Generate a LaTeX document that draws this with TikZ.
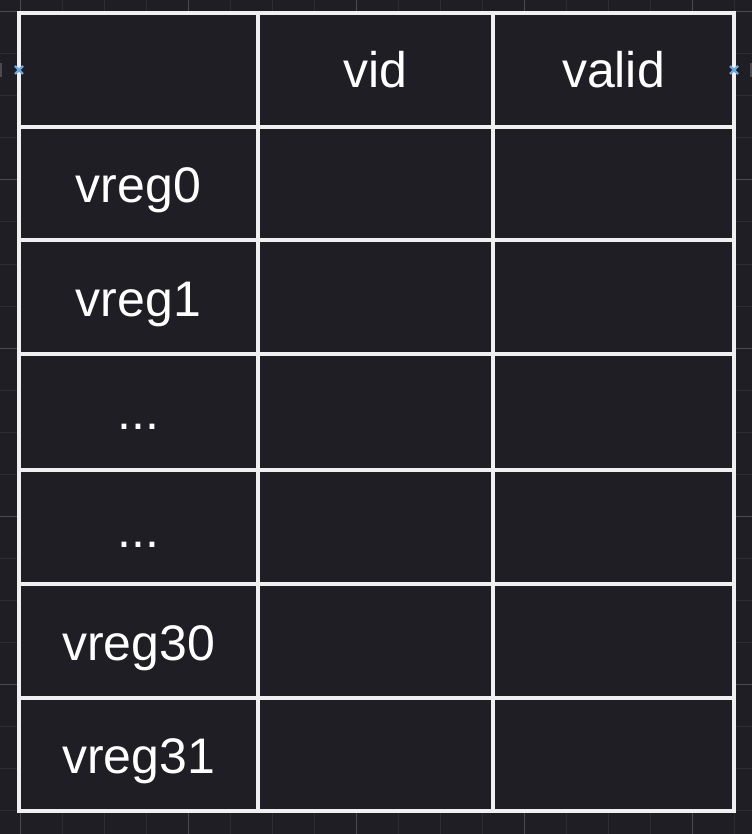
\documentclass[tikz,border=0pt]{standalone}
\usepackage{fontspec}
\setmainfont{Liberation Sans}
\definecolor{bgdark}{HTML}{1F1E24}
\definecolor{gridminor}{HTML}{2E2D33}
\definecolor{gridmajor}{HTML}{4B4A50}
\definecolor{rulewhite}{HTML}{F0F0F0}
\definecolor{handleblue}{HTML}{6FA8DC}
\tikzset{
  celltext/.style={text=white, font=\fontsize{50}{58}\selectfont, inner sep=0pt, anchor=base},
  tableline/.style={draw=rulewhite, line width=4pt},
  handle/.style={draw=handleblue, line width=2.2pt}
}
\begin{document}
\begin{tikzpicture}[x=1pt, y=-1pt]
    \fill[bgdark] (0,0) rectangle (752,834);
    \useasboundingbox (0,0) rectangle (752,834);
    % editor grid
    \foreach \gx in {20,62,...,752} \draw[gridminor, line width=1pt] (\gx,0) -- (\gx,834);
    \foreach \gy in {12,54,...,834} \draw[gridminor, line width=1pt] (0,\gy) -- (752,\gy);
    \foreach \gx in {20,188,...,752} \draw[gridmajor, line width=1pt] (\gx,0) -- (\gx,834);
    \foreach \gy in {12,180,...,834} \draw[gridmajor, line width=1pt] (0,\gy) -- (752,\gy);
    \fill[gridmajor] (0,63) rectangle (2,77);
    \fill[gridmajor] (750,63) rectangle (752,77);
    % table
    \fill[bgdark] (19,13) rectangle (734,811);
    \draw[tableline] (19,13) rectangle (734,811);
    \draw[tableline] (258,13) -- (258,811);
    \draw[tableline] (493,13) -- (493,811);
    \foreach \ry in {127,240,354,470,584,698} \draw[tableline] (19,\ry) -- (734,\ry);
    % header
    \node[celltext] (vid) at (375.5,88) {vid};
    \node[celltext] (valid) at (613.5,88) {valid};
    % rows
    \node[celltext] (r0) at (138.5,203) {vreg0};
    \node[celltext] (r1) at (138.5,316) {vreg1};
    \node[celltext] (r2) at (138.5,429) {...};
    \node[celltext] (r3) at (138.5,547) {...};
    \node[celltext] (r30) at (138.5,660) {vreg30};
    \node[celltext] (r31) at (138.5,773) {vreg31};
    % selection handles
    \draw[handle] (15,66) -- (23,74) (15,74) -- (23,66);
    \draw[handle] (730,66) -- (738,74) (730,74) -- (738,66);
\end{tikzpicture}
\end{document}
